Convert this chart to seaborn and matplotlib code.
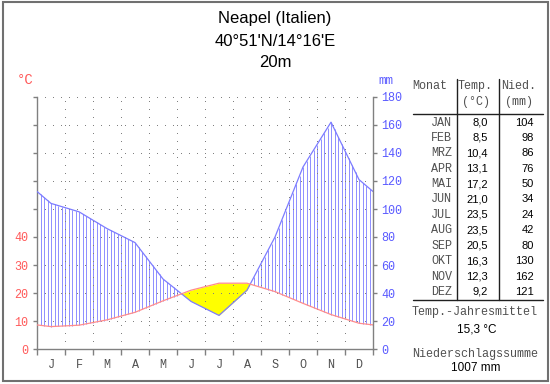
import numpy as np
import pandas as pd
import matplotlib
matplotlib.use("Agg")
import matplotlib.pyplot as plt
from matplotlib.patches import Rectangle
from matplotlib.lines import Line2D
import seaborn as sns

# ---- data ----
month_letters = ["J", "F", "M", "A", "M", "J", "J", "A", "S", "O", "N", "D"]
month_abbr = ["JAN", "FEB", "MRZ", "APR", "MAI", "JUN", "JUL", "AUG", "SEP", "OKT", "NOV", "DEZ"]
temp = [8.0, 8.5, 10.4, 13.1, 17.2, 21.0, 23.5, 23.5, 20.5, 16.3, 12.3, 9.2]
precip = [104, 98, 86, 76, 50, 34, 24, 42, 80, 130, 162, 121]
temp_ticks = [0, 10, 20, 30, 40, 50, 60, 70, 80, 90]
temp_tick_labels = ["0", "10", "20", "30", "40", "", "", "", "", ""]
precip_ticks = [0, 20, 40, 60, 80, 100, 120, 140, 160, 180]
title_lines = ["Neapel (Italien)", "40°51'N/14°16'E", "20m"]
annual_temp = "15,3 °C"
annual_precip = "1007 mm"

sns.set_theme(style="white")
plt.rcParams['font.family'] = ['Liberation Sans', 'DejaVu Sans']

W, H = 550, 384
fig = plt.figure(figsize=(W / 100, H / 100), dpi=100)
fig.patch.set_facecolor("white")

def fx(x):
    return x / W

def fy(y):
    return 1 - y / H

ax = fig.add_axes([fx(37), fy(349), 336 / W, 252 / H])
ax.set_facecolor("white")
ax.set_xlim(0, 12)
ax.set_ylim(0, 90)

RED = "#ff5a5a"
BLUE = "#5a5aff"
TLINE = "#ff8c8c"
PLINE = "#7c7cff"
GRAY = "#808080"
MONO = ['Liberation Mono', 'DejaVu Sans Mono']

# curve points: month centres plus wrap-around edges
xc = np.arange(12) + 0.5
t_edge = (temp[0] + temp[-1]) / 2
p_edge = (precip[0] + precip[-1]) / 2
xs = np.concatenate([[0], xc, [12]])
ts = np.concatenate([[t_edge], temp, [t_edge]])
ps = np.concatenate([[p_edge], precip, [p_edge]]) / 2.0  # 2 mm = 1 °C

# humid hatching
hx = np.arange(0, 12.0001, 1 / 8)
ht = np.interp(hx, xs, ts)
hp = np.interp(hx, xs, ps)
m = hp > ht
ax.vlines(hx[m], ht[m], hp[m], color="#7c7cff", lw=0.6, zorder=1)

# arid fill
fine = np.linspace(0, 12, 1201)
ft = np.interp(fine, xs, ts)
fp = np.interp(fine, xs, ps)
ax.fill_between(fine, fp, ft, where=ft >= fp, color="#ffff00", lw=0, zorder=1.2)

# grid
dot = (0, (1, 7))
for yv in temp_ticks[1:]:
    ax.add_line(Line2D([0, 12], [yv, yv], color=GRAY, lw=0.72, ls=dot, zorder=2,
                       antialiased=False))
for xv in range(1, 12):
    ax.add_line(Line2D([xv, xv], [0, 90], color=GRAY, lw=0.72, ls=dot, zorder=2,
                       antialiased=False))

df_t = pd.DataFrame({"x": xs, "y": ts})
df_p = pd.DataFrame({"x": xs, "y": ps})
sns.lineplot(data=df_p, x="x", y="y", ax=ax, color=PLINE, lw=0.9, zorder=3)
sns.lineplot(data=df_t, x="x", y="y", ax=ax, color=TLINE, lw=0.9, zorder=3.1)
ax.set_xlabel("")
ax.set_ylabel("")

# spines / ticks
for s in ["top", "right"]:
    ax.spines[s].set_visible(False)
for s in ["left", "bottom"]:
    ax.spines[s].set_color(GRAY)
    ax.spines[s].set_linewidth(1.0)
ax.set_xticks(range(13))
ax.set_xticklabels([""] * 13)
ax.set_xticks(xc, minor=True)
ax.set_xticklabels(month_letters, minor=True, family=MONO, fontsize=8.5, color="#505050")
ax.tick_params(axis="x", which="major", length=4, width=1, color=GRAY, direction="out", bottom=True)
ax.tick_params(axis="x", which="minor", length=0, pad=7, bottom=True)
ax.set_yticks(temp_ticks)
ax.set_yticklabels(temp_tick_labels, family=MONO, fontsize=8.5, color=RED)
ax.tick_params(axis="y", length=3, width=1, color=GRAY, direction="out", left=True, pad=3)

ax2 = ax.twinx()
ax2.set_ylim(0, 180)
ax2.set_yticks(precip_ticks)
ax2.set_yticklabels([str(v) for v in precip_ticks], family=MONO, fontsize=8.5, color=BLUE)
ax2.tick_params(axis="y", length=3, width=1, color=GRAY, direction="out", right=True, pad=3)
for s in ["top", "left", "bottom"]:
    ax2.spines[s].set_visible(False)
ax2.spines["right"].set_color(GRAY)
ax2.spines["right"].set_linewidth(1.0)
ax2.grid(False)
ax.grid(False)

# unit labels
fig.text(fx(25), fy(80), "°C", color=RED, family=MONO, fontsize=10, ha="center", va="center")
fig.text(fx(386), fy(81), "mm", color=BLUE, family=MONO, fontsize=9, ha="center", va="center")

# title
for txt, yy in zip(title_lines, [18.5, 41, 62.5]):
    fig.text(fx(275), fy(yy), txt, color="black", fontsize=12, ha="center", va="center")

# table
TX = "#505050"
TFS = 8.5
fig.text(fx(430), fy(86), "Monat", family=MONO, fontsize=TFS, color=TX, ha="center", va="center")
fig.text(fx(475), fy(86), "Temp.", family=MONO, fontsize=TFS, color=TX, ha="center", va="center")
fig.text(fx(476), fy(102), "(°C)", family=MONO, fontsize=TFS, color=TX, ha="center", va="center")
fig.text(fx(519), fy(86), "Nied.", family=MONO, fontsize=TFS, color=TX, ha="center", va="center")
fig.text(fx(519), fy(102), "(mm)", family=MONO, fontsize=TFS, color=TX, ha="center", va="center")
for i, (mn, tv, pv) in enumerate(zip(month_abbr, temp, precip)):
    yy = 122.5 + i * 15.4
    fig.text(fx(452), fy(yy), mn, family=MONO, fontsize=TFS, color=TX, ha="right", va="center")
    fig.text(fx(488), fy(yy), f"{tv:.1f}".replace(".", ","), fontsize=8, color="black", ha="right", va="center")
    fig.text(fx(534), fy(yy), str(pv), fontsize=8, color="black", ha="right", va="center")

lc = "#202020"
fig.add_artist(Line2D([fx(413), fx(543)], [fy(114), fy(114)], color=lc, lw=1))
fig.add_artist(Line2D([fx(413), fx(543)], [fy(300), fy(300)], color=lc, lw=1))
fig.add_artist(Line2D([fx(457), fx(457)], [fy(79), fy(300)], color=lc, lw=1))
fig.add_artist(Line2D([fx(499), fx(499)], [fy(79), fy(300)], color=lc, lw=1))

fig.text(fx(475), fy(312.5), "Temp.-Jahresmittel", family=MONO, fontsize=TFS, color=TX, ha="center", va="center")
fig.text(fx(477), fy(329), annual_temp, fontsize=8.5, color="black", ha="center", va="center")
fig.text(fx(475), fy(354), "Niederschlagssumme", family=MONO, fontsize=TFS, color=TX, ha="center", va="center")
fig.text(fx(476), fy(368), annual_precip, fontsize=8.5, color="black", ha="center", va="center")

# outer frame
fig.add_artist(Rectangle((fx(2.5), fy(380.5)), fx(545), 378.5 / H, fill=False,
                         edgecolor="#707070", lw=1.5, transform=fig.transFigure))

fig.savefig("out.png", dpi=100, facecolor="white")
